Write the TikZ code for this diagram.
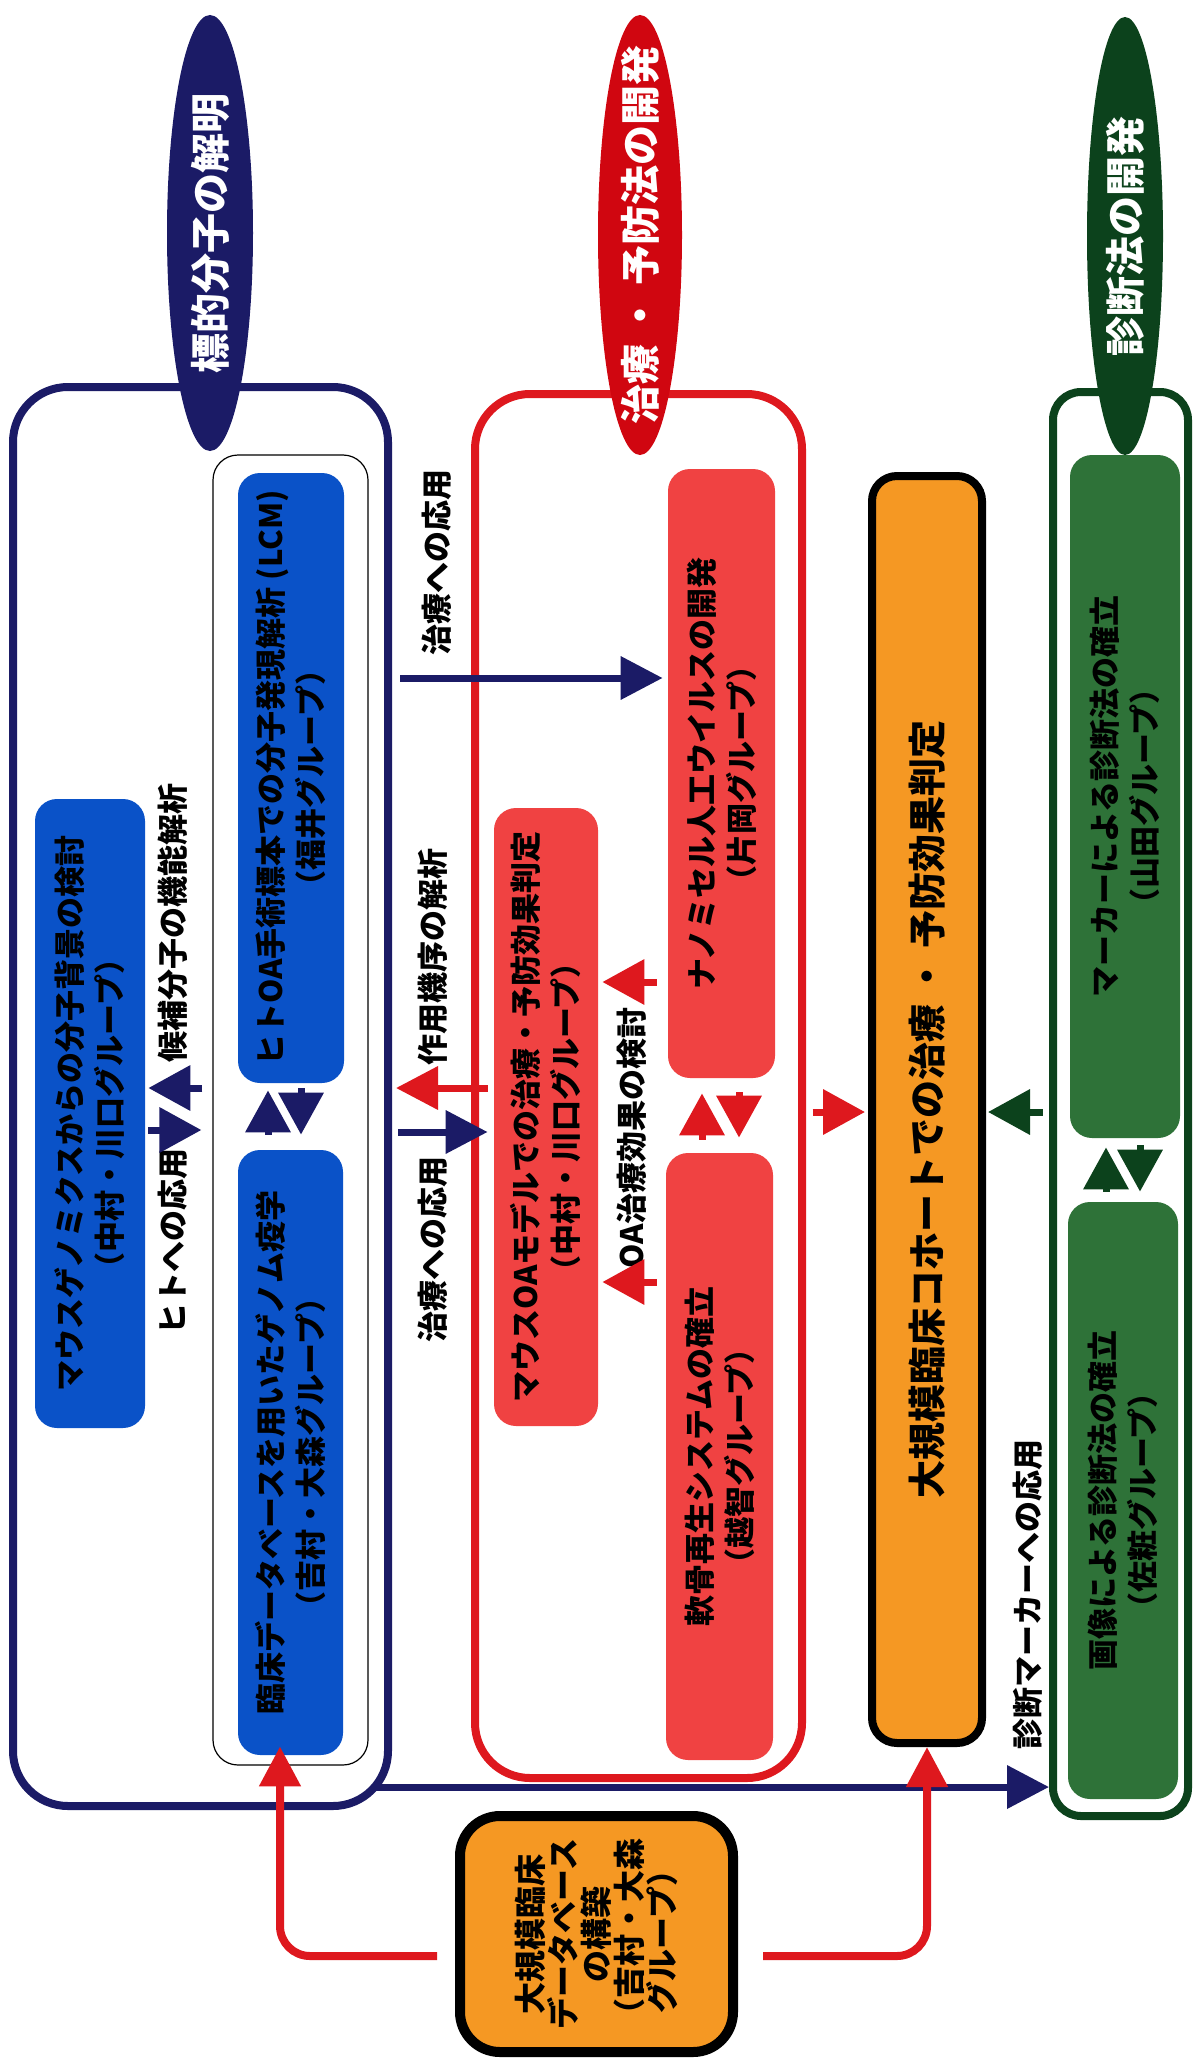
\documentclass[tikz,border=0pt]{standalone}
\usepackage{fontspec}
\newfontfamily\jp{Noto Sans CJK JP}
\usetikzlibrary{arrows.meta,shapes.geometric}
\definecolor{navyc}{RGB}{27,27,102}
\definecolor{bluef}{RGB}{10,82,200}
\definecolor{rede}{RGB}{208,6,16}
\definecolor{redb}{RGB}{222,24,30}
\definecolor{redf}{RGB}{240,66,66}
\definecolor{orangef}{RGB}{245,152,35}
\definecolor{greend}{RGB}{12,66,28}
\definecolor{greenf}{RGB}{46,114,56}
\begin{document}
\begin{tikzpicture}[x=0.5pt,y=-0.5pt,
  grp/.style={draw, line width=4pt, fill=white, inner sep=0pt, rounded corners=27.5pt},
  item/.style={inner sep=0pt, rounded corners=11pt},
  txt/.style={rotate=90, align=center, inner sep=0pt, font=\jp\bfseries\fontsize{15.5pt}{20pt}\selectfont},
  lbl/.style={rotate=90, inner sep=0pt, font=\jp\bfseries\fontsize{15.5pt}{18pt}\selectfont},
  ttl/.style={rotate=90, inner sep=0pt, text=white, font=\jp\bfseries\fontsize{20pt}{24pt}\selectfont},
  ell/.style={ellipse, inner sep=0pt},
  bnavy/.style={draw=navyc, line width=3.5pt, -{Triangle[length=21pt,width=21pt]}},
  bred/.style={draw=redb, line width=3.5pt, -{Triangle[length=21pt,width=21pt]}},
  snavy/.style={draw=navyc, line width=3.5pt, -{Triangle[length=21pt,width=22pt]}},
  sred/.style={draw=redb, line width=3.5pt, -{Triangle[length=21pt,width=22pt]}},
  sgreen/.style={draw=greend, line width=3.5pt, -{Triangle[length=21pt,width=22pt]}},
  lred/.style={draw=redb, line width=4pt, rounded corners=15pt, -{Triangle[length=20pt,width=20pt]}}
]
\useasboundingbox (0,0) rectangle (1193,2060);
\fill[white] (0,0) rectangle (1193,2060);

% group frames
\node[grp, draw=navyc, minimum width=187.5pt, minimum height=709.5pt] (navy) at (200.5,1096.5) {};
\node[grp, draw=redb, minimum width=163.5pt, minimum height=692pt] (red) at (638.5,1086) {};
\node[grp, draw=greend, rounded corners=14pt, minimum width=67.5pt, minimum height=712pt] (green) at (1120.5,1104) {};
\node[draw=black, line width=0.6pt, rounded corners=12.5pt, inner sep=0pt, minimum width=77.5pt, minimum height=655pt] (thin) at (290.5,1110) {};

% blue items
\node[item, fill=bluef, minimum width=53pt, minimum height=305pt] (lcm) at (291,778) {};
\node[item, fill=bluef, minimum width=52.5pt, minimum height=302.5pt] (rinsho) at (290.5,1452.5) {};
\node[item, fill=bluef, minimum width=55pt, minimum height=314.5pt] (mouse) at (90,1113.5) {};
% red items
\node[item, fill=redf, minimum width=52pt, minimum height=309pt] (moa) at (546,1117) {};
\node[item, fill=redf, minimum width=53.5pt, minimum height=304.5pt] (nano) at (721.5,773.5) {};
\node[item, fill=redf, minimum width=53.5pt, minimum height=303.5pt] (nankotsu) at (719.5,1456.5) {};
% green items
\node[item, fill=greenf, minimum width=55pt, minimum height=341.5pt] (marker) at (1125,796.5) {};
\node[item, fill=greenf, minimum width=55pt, minimum height=298.5pt] (gazo) at (1123,1500.5) {};
% orange boxes
\node[draw=black, fill=orangef, line width=4pt, rounded corners=12.5pt, inner sep=0pt, minimum width=55pt, minimum height=633.5pt] (cohort) at (927,1109.5) {};
\node[draw=black, fill=orangef, line width=5pt, rounded corners=20pt, inner sep=0pt, minimum width=136.5pt, minimum height=118pt] (db) at (596.5,1934) {};

% title ellipses
\node[ell, fill=navyc, minimum width=43pt, minimum height=218pt] (navyE) at (210,233) {};
\node[ell, fill=rede, minimum width=42pt, minimum height=220pt] (redE) at (640,235) {};
\node[ell, fill=greend, minimum width=38pt, minimum height=219pt] (greenE) at (1125,236) {};
\node[ttl] (navyT) at (navyE) {標的分子の解明};
\node[ttl] (redT) at (redE) {治療 ・ 予防法の開発};
\node[ttl] (greenT) at (greenE) {診断法の開発};

% box texts
\node[txt] (lcmT) at (lcm) {ヒトOA手術標本での分子発現解析 (LCM)\\（福井グループ）};
\node[txt] (rinshoT) at (rinsho) {臨床データベースを用いたゲノム疫学\\（吉村・大森グループ）};
\node[txt] (mouseT) at (mouse) {マウスゲノミクスからの分子背景の検討\\（中村・川口グループ）};
\node[txt] (moaT) at (moa) {マウスOAモデルでの治療・予防効果判定\\（中村・川口グループ）};
\node[txt] (nanoT) at (nano) {ナノミセル人工ウイルスの開発\\（片岡グループ）};
\node[txt] (nankotsuT) at (nankotsu) {軟骨再生システムの確立\\（越智グループ）};
\node[txt] (markerT) at (marker) {マーカーによる診断法の確立\\（山田グループ）};
\node[txt] (gazoT) at (gazo) {画像による診断法の確立\\（佐粧グループ）};
\node[rotate=90, inner sep=0pt, font=\jp\bfseries\fontsize{19pt}{22pt}\selectfont] (cohortT) at (cohort) {大規模臨床コホートでの治療 ・ 予防効果判定};
\node[txt, font=\jp\bfseries\fontsize{16pt}{16.5pt}\selectfont] (dbT) at (db) {大規模臨床\\データベース\\の構築\\（吉村・大森\\グループ）};

% labels
\node[lbl] (l1) at (437,562) {治療への応用};
\node[lbl] (l2) at (173,923) {候補分子の機能解析};
\node[lbl] (l3) at (173,1241) {ヒトへの応用};
\node[lbl] (l4) at (433,957) {作用機序の解析};
\node[lbl] (l5) at (433,1249) {治療への応用};
\node[lbl] (l6) at (632,1138) {OA治療効果の検討};
\node[lbl] (l7) at (1028,1594) {診断マーカーへの応用};

% short arrows: mouse <-> human
\draw[snavy, shorten <=5pt, shorten >=1.5pt] (thin.west |- 0,1088) -- (mouse.east |- 0,1088);
\draw[snavy, shorten <=1.5pt, shorten >=5.5pt] (mouse.east |- 0,1130) -- (thin.west |- 0,1130);
% LCM <-> rinsho
\draw[snavy, shorten <=7.5pt, shorten >=3.5pt] (rinsho.north -| 268,0) -- (lcm.south -| 268,0);
\draw[snavy, shorten <=2.5pt, shorten >=7.5pt] (lcm.south -| 301,0) -- (rinsho.north -| 301,0);
% navy <-> red
\draw[bnavy, shorten <=4pt, shorten >=2.5pt] (navy.east |- 0,678) -- (nano.west |- 0,678);
\draw[bred, shorten <=3pt, shorten >=2pt] (moa.west |- 0,1088) -- (navy.east |- 0,1088);
\draw[bnavy, shorten <=3pt, shorten >=3pt] (navy.east |- 0,1132) -- (moa.west |- 0,1132);
% OA treatment arrows
\draw[sred, shorten <=5.5pt, shorten >=2pt] (nano.west |- 0,982) -- (moa.east |- 0,982);
\draw[sred, shorten <=4.5pt, shorten >=2pt] (nankotsu.west |- 0,1282) -- (moa.east |- 0,1282);
% nano <-> nankotsu
\draw[sred, shorten <=6.5pt, shorten >=7.5pt] (nankotsu.north -| 702,0) -- (nano.south -| 702,0);
\draw[sred, shorten <=7pt, shorten >=7.5pt] (nano.south -| 739,0) -- (nankotsu.north -| 739,0);
% red -> cohort, green -> cohort
\draw[sred, shorten <=3.25pt, shorten >=1.5pt] (red.east |- 0,1112) -- (cohort.west |- 0,1112);
\draw[sgreen, shorten <=3.25pt, shorten >=1pt] (green.west |- 0,1112) -- (cohort.east |- 0,1112);
% marker <-> gazo
\draw[sgreen, shorten <=5pt, shorten >=4.5pt] (gazo.north -| 1106,0) -- (marker.south -| 1106,0);
\draw[sgreen, shorten <=3.5pt, shorten >=5pt] (marker.south -| 1140,0) -- (gazo.north -| 1140,0);
% diagnostic marker arrow
\draw[bnavy, shorten <=-8.5pt] (navy.east |- 0,1787) -- (green.west |- 0,1787);
% database connectors
\draw[lred, shorten <=9pt, shorten >=-4.5pt] (db.west |- 0,1956) -| (rinsho.south -| 280,0);
\draw[lred, shorten <=12.5pt] (db.east |- 0,1956) -| (cohort.south);
\end{tikzpicture}
\end{document}
